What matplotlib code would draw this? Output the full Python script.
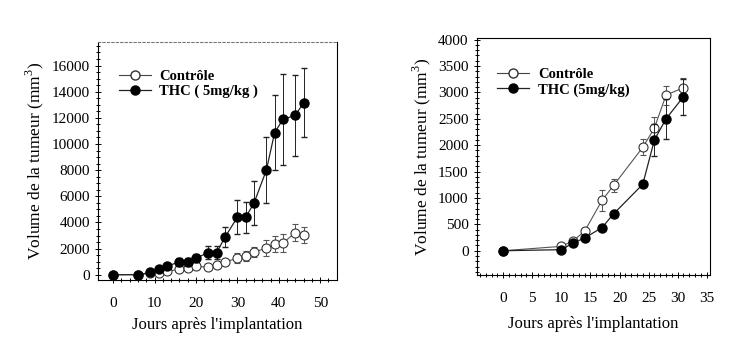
import matplotlib.pyplot as plt
import numpy as np
from matplotlib.lines import Line2D

plt.rcParams['font.family'] = ['Liberation Serif', 'DejaVu Serif']
plt.rcParams['mathtext.fontset'] = 'custom'
plt.rcParams['mathtext.rm'] = 'Liberation Serif'

# left panel: tumour volume (mm3) vs days
days_a = [0, 6, 9, 11, 13, 16, 18, 20, 23, 25, 27, 30, 32, 34, 37, 39, 41, 44, 46]
ctrl_a = [0, 20, 100, 100, 250, 430, 500, 640, 590, 760, 970, 1270, 1400, 1730, 2040, 2340, 2420, 3230, 3050]
ctrl_a_err = [0, 0, 0, 60, 80, 150, 150, 180, 180, 200, 250, 380, 380, 380, 630, 600, 700, 640, 590]
thc_a = [0, 0, 180, 430, 640, 1000, 1000, 1270, 1700, 1700, 2870, 4400, 4400, 5470, 8000, 10870, 11880, 12200, 13150]
thc_a_err = [0, 0, 50, 80, 100, 300, 300, 300, 500, 500, 750, 1300, 1200, 1700, 2500, 2850, 3500, 3100, 2650]

# right panel
days_b = [0, 10, 12, 14, 17, 19, 24, 26, 28, 31]
ctrl_b = [0, 83, 185, 370, 955, 1240, 1960, 2325, 2950, 3090]
ctrl_b_err = [0, 20, 30, 40, 200, 120, 150, 210, 180, 180]
thc_b = [0, 20, 146, 240, 440, 700, 1260, 2100, 2500, 2920]
thc_b_err = [0, 15, 30, 30, 30, 40, 40, 300, 380, 340]

fig = plt.figure(figsize=(7.5, 3.51), dpi=100)
ax1 = fig.add_axes([0.131, 0.2023, 0.318, 0.678])
ax2 = fig.add_axes([0.636, 0.2165, 0.311, 0.675])

ylab = 'Volume de la tumeur (mm$^3$)'
xlab = "Jours après l'implantation"

def draw(ax, x, c, ce, t, te):
    ax.errorbar(x, c, yerr=ce, color='#555555', lw=0.8, elinewidth=0.7, capsize=2.5,
                marker='o', ms=6.5, mfc='white', mec='#333333', mew=0.8, zorder=3)
    ax.errorbar(x, t, yerr=te, color='#222222', lw=0.9, elinewidth=0.7, capsize=2.5,
                marker='o', ms=6.5, mfc='black', mec='black', zorder=4)
    ax.tick_params(which='both', direction='inout', labelsize=11, width=0.7)
    ax.tick_params(which='major', length=5)
    ax.tick_params(which='minor', length=3)
    ax.tick_params(axis='x', pad=10)
    for s in ax.spines.values():
        s.set_linewidth(0.8)
    ax.set_ylabel(ylab, fontsize=12.5)
    ax.set_xlabel(xlab, fontsize=12, labelpad=5)

draw(ax1, days_a, ctrl_a, ctrl_a_err, thc_a, thc_a_err)
ax1.set_xlim(-3.6, 54)
ax1.set_ylim(-400, 17800)
ax1.set_xticks(np.arange(0, 51, 10))
ax1.set_xticks(np.arange(0, 54, 2), minor=True)
ax1.set_yticks(np.arange(0, 16001, 2000))
ax1.set_yticks(np.arange(0, 17800, 500), minor=True)
ax1.spines['top'].set_linestyle((0, (2, 2)))
ax1.spines['top'].set_color('#777777')

draw(ax2, days_b, ctrl_b, ctrl_b_err, thc_b, thc_b_err)
ax2.set_xlim(-4.5, 35.6)
ax2.set_ylim(-460, 4030)
ax2.set_xticks(np.arange(0, 36, 5))
ax2.set_xticks(np.arange(-4, 36, 1), minor=True)
ax2.set_yticks(np.arange(0, 4001, 500))
ax2.set_yticks(np.arange(-400, 4030, 100), minor=True)
ax2.xaxis.labelpad = 8

h = [Line2D([], [], color='#444444', lw=0.8, marker='o', ms=6.5, mfc='white', mec='#333333'),
     Line2D([], [], color='#222222', lw=0.9, marker='o', ms=6.5, mfc='black', mec='black')]
ax1.legend(h, ['Contrôle', 'THC ( 5mg/kg )'], loc='upper left', bbox_to_anchor=(0.03, 0.94),
           frameon=False, prop={'weight': 'bold', 'size': 10.5}, handlelength=2.2,
           handletextpad=0.6, labelspacing=0.15)
ax2.legend(h, ['Contrôle', 'THC (5mg/kg)'], loc='upper left', bbox_to_anchor=(0.03, 0.93),
           frameon=False, prop={'weight': 'bold', 'size': 10.5}, handlelength=2.2,
           handletextpad=0.6, labelspacing=0.15)

fig.savefig('out.png', dpi=100)
